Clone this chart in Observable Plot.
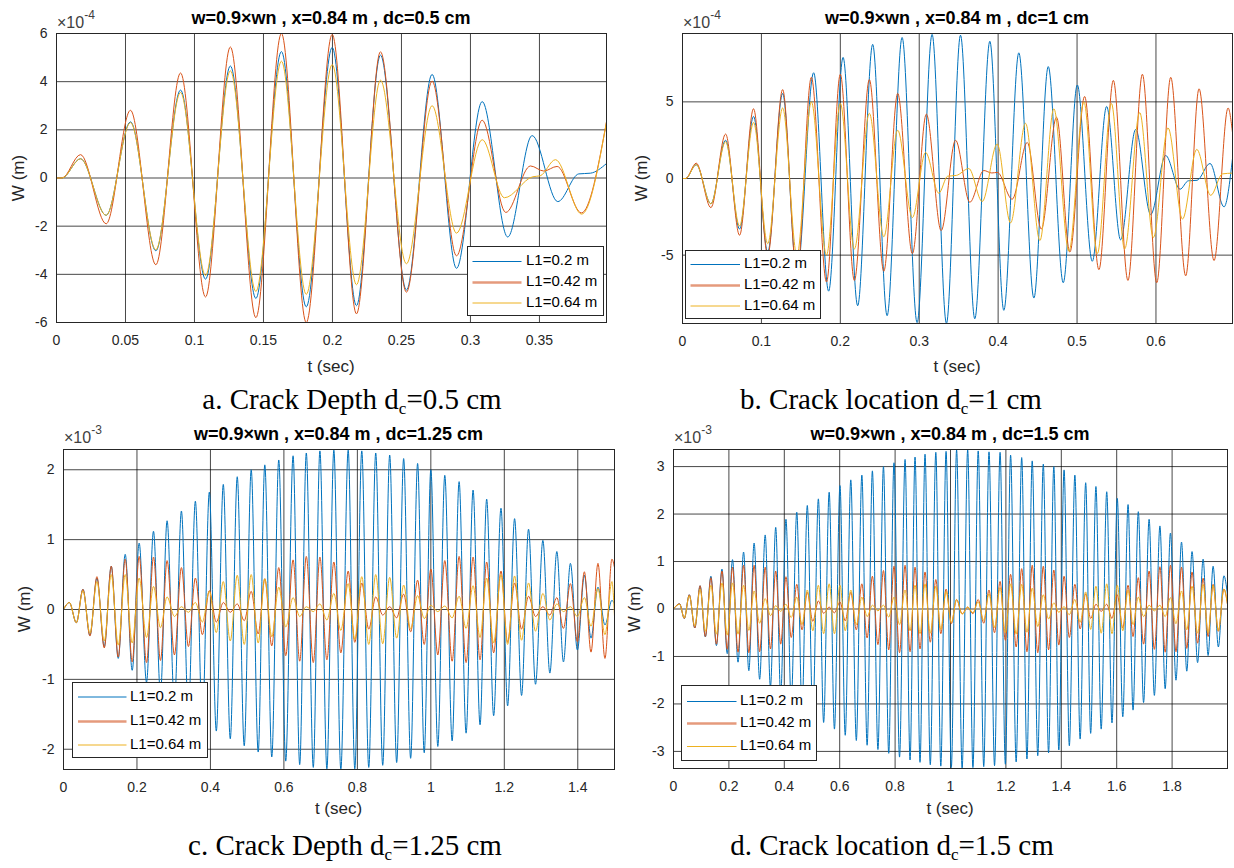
<!DOCTYPE html>
<html>
<head>
<meta charset="utf-8">
<script src="https://cdn.jsdelivr.net/npm/d3@7"></script>
<script src="https://cdn.jsdelivr.net/npm/@observablehq/plot@0.6"></script>
<style>
  html, body { margin: 0; padding: 0; background: #fff; }
  #fig { position: relative; width: 1234px; height: 868px; overflow: hidden; background: #fff;
         font-family: "Liberation Sans", Arial, sans-serif; }
  #fig svg { position: absolute; }
</style>
</head>
<body>
<div id="fig"></div>
<script>
// ---------------------------------------------------------------------------
// Beam deflection W(t) at x = 0.84 m, forcing w = 0.9 wn, for three crack
// positions L1. Each series is stored as its turning points (time, value);
// values are in the unit shown by the axis multiplier of each panel.
// ---------------------------------------------------------------------------
const seriesLabels = ["L1=0.2 m", "L1=0.42 m", "L1=0.64 m"];

// (a) dc = 0.5 cm, values x 1e-4 m
const tA_blue = [0, 0.004, 0.0174, 0.036, 0.0536, 0.072, 0.0899, 0.108, 0.126, 0.1445, 0.163, 0.181, 0.1998, 0.2174, 0.2348, 0.2536, 0.2722, 0.2899, 0.3085, 0.327, 0.3447, 0.3633, 0.3785, 0.387, 0.3986];
const wA_blue = [0, 0, 0.8, -1.55, 2.33, -3.02, 3.65, -4.2, 4.65, -5.0, 5.25, -5.35, 5.42, -5.3, 5.1, -4.65, 4.3, -3.75, 3.17, -2.45, 1.76, -0.98, 0.17, 0.2, 0.6];
const tA_red = [0, 0.004, 0.0174, 0.036, 0.0536, 0.072, 0.0899, 0.108, 0.126, 0.1445, 0.163, 0.181, 0.1998, 0.2174, 0.2348, 0.2536, 0.2722, 0.2899, 0.3085, 0.3256, 0.3435, 0.3531, 0.3628, 0.3804, 0.3986];
const wA_red = [0, 0, 0.97, -1.9, 2.81, -3.6, 4.36, -4.94, 5.44, -5.8, 6.0, -6.0, 5.96, -5.64, 5.24, -4.74, 4.02, -3.23, 2.4, -1.43, 0.5, 0.29, 0.48, -1.45, 2.33];
const tA_yellow = [0, 0.004, 0.0174, 0.036, 0.0536, 0.072, 0.0899, 0.108, 0.126, 0.1445, 0.163, 0.181, 0.1998, 0.2174, 0.2348, 0.2536, 0.2722, 0.2899, 0.3085, 0.3246, 0.345, 0.3505, 0.3616, 0.3806, 0.3986];
const wA_yellow = [0, 0, 0.8, -1.55, 2.3, -2.98, 3.55, -4.05, 4.45, -4.71, 4.85, -4.83, 4.71, -4.43, 4.06, -3.56, 3.0, -2.29, 1.59, -0.82, 0.05, 0.09, 0.76, -1.5, 2.33];
const ticksA_x = [0, 0.05, 0.1, 0.15, 0.2, 0.25, 0.3, 0.35];
const ticksA_y = [-6, -4, -2, 0, 2, 4, 6];

// (b) dc = 1 cm, values x 1e-4 m
const tB_blue = [0, 0.004, 0.0174, 0.036, 0.0546, 0.0723, 0.09, 0.108, 0.1269, 0.145, 0.1662, 0.1852, 0.2035, 0.222, 0.241, 0.2593, 0.2783, 0.2973, 0.3163, 0.3345, 0.3523, 0.3704, 0.3895, 0.4072, 0.4262, 0.4453, 0.4635, 0.4825, 0.5003, 0.5193, 0.5375, 0.5552, 0.5743, 0.5933, 0.6123, 0.6305, 0.641, 0.652, 0.6685, 0.6863, 0.697];
const wB_blue = [0, 0, 0.9, -1.65, 2.5, -3.3, 4.05, -4.8, 5.55, -6.2, 6.9, -7.35, 7.9, -8.3, 8.75, -8.95, 9.2, -9.4, 9.4, -9.45, 9.35, -9.15, 8.95, -8.6, 8.2, -7.8, 7.3, -6.8, 6.1, -5.4, 4.7, -4.0, 3.2, -2.35, 1.5, -0.7, -0.15, -0.12, 0.98, -1.85, 1.3];
const tB_red = [0, 0.004, 0.0174, 0.036, 0.0546, 0.0723, 0.09, 0.108, 0.1269, 0.145, 0.1633, 0.1825, 0.2, 0.2178, 0.2368, 0.2551, 0.2727, 0.2913, 0.309, 0.3278, 0.346, 0.3641, 0.3819, 0.392, 0.399, 0.4178, 0.4369, 0.4547, 0.474, 0.4909, 0.5096, 0.5277, 0.546, 0.5645, 0.5828, 0.601, 0.6187, 0.6377, 0.6546, 0.6736, 0.6914, 0.697];
const wB_red = [0, 0, 1.0, -1.9, 2.9, -3.7, 4.55, -5.0, 5.8, -6.3, 6.6, -6.75, 6.8, -6.65, 6.45, -6.05, 5.55, -4.9, 4.2, -3.4, 2.5, -1.55, 0.52, 0.36, 0.4, -1.35, 2.35, -3.3, 4.0, -4.8, 5.35, -5.95, 6.4, -6.65, 6.8, -6.8, 6.6, -6.35, 5.85, -5.35, 4.6, 3.0];
const tB_yellow = [0, 0.004, 0.0174, 0.036, 0.0546, 0.0723, 0.09, 0.108, 0.1269, 0.145, 0.1633, 0.1825, 0.2, 0.2178, 0.2368, 0.2551, 0.2727, 0.2913, 0.308, 0.3248, 0.336, 0.347, 0.3628, 0.3798, 0.3988, 0.4157, 0.4347, 0.4529, 0.4706, 0.4897, 0.5087, 0.5257, 0.5435, 0.5603, 0.5794, 0.5967, 0.6153, 0.6336, 0.6517, 0.6694, 0.6842, 0.697];
const wB_yellow = [0, 0, 0.9, -1.65, 2.4, -3.1, 3.65, -4.25, 4.6, -5.0, 5.0, -5.0, 4.9, -4.6, 4.25, -3.8, 3.15, -2.55, 1.7, -0.96, 0.15, 0.2, 0.65, -1.5, 2.25, -2.9, 3.6, -4.05, 4.55, -4.75, 5.0, -4.9, 4.9, -4.6, 4.3, -3.85, 3.3, -2.65, 1.9, -1.1, 0.3, 0.35];
const ticksB_x = [0, 0.1, 0.2, 0.3, 0.4, 0.5, 0.6];
const ticksB_y = [-5, 0, 5];

// (c) dc = 1.25 cm, values x 1e-3 m; the three series share the turning-point times
const tC = [0, 0.016, 0.035, 0.053, 0.072, 0.091, 0.111, 0.130, 0.149, 0.168,
  0.187, 0.206, 0.226, 0.245, 0.264, 0.282, 0.302, 0.321, 0.340, 0.359,
  0.378, 0.397, 0.416, 0.435, 0.454, 0.473, 0.492, 0.511, 0.530, 0.548,
  0.567, 0.586, 0.605, 0.625, 0.643, 0.661, 0.680, 0.698, 0.717, 0.736,
  0.755, 0.775, 0.793, 0.812, 0.831, 0.850, 0.869, 0.888, 0.907, 0.926,
  0.945, 0.964, 0.982, 1.000, 1.019, 1.038, 1.058, 1.077, 1.096, 1.115,
  1.134, 1.152, 1.171, 1.191, 1.209, 1.228, 1.247, 1.266, 1.285, 1.305,
  1.324, 1.343, 1.361, 1.380, 1.399, 1.418, 1.436, 1.455, 1.474, 1.493, 1.5];
const wC_blue = [0, 0.1, -0.19, 0.29, -0.37, 0.45, -0.53, 0.62, -0.7, 0.79, -0.87,
  0.95, -1.04, 1.12, -1.2, 1.27, -1.35, 1.41, -1.49, 1.55, -1.62,
  1.68, -1.74, 1.79, -1.85, 1.9, -1.95, 2.0, -2.04, 2.07, -2.11,
  2.14, -2.17, 2.2, -2.22, 2.24, -2.26, 2.27, -2.28, 2.28, -2.29,
  2.28, -2.28, 2.27, -2.26, 2.24, -2.23, 2.21, -2.19, 2.16, -2.13,
  2.09, -2.05, 2.0, -1.96, 1.92, -1.88, 1.83, -1.77, 1.71, -1.65,
  1.58, -1.52, 1.45, -1.38, 1.3, -1.23, 1.15, -1.07, 0.99, -0.91,
  0.83, -0.75, 0.66, -0.58, 0.49, -0.41, 0.32, -0.22, 0.13, 0.08];
const wC_red = [0, 0.1, -0.19, 0.29, -0.38, 0.47, -0.55, 0.62, -0.68, 0.72, -0.75,
  0.76, -0.76, 0.75, -0.73, 0.7, -0.65, 0.6, -0.53, 0.45, -0.36,
  0.27, -0.18, 0.1, -0.04, 0.08, -0.16, 0.26, -0.35, 0.44, -0.52,
  0.6, -0.66, 0.71, -0.74, 0.76, -0.76, 0.75, -0.72, 0.68, -0.62,
  0.55, -0.47, 0.38, -0.28, 0.18, -0.08, 0.04, -0.12, 0.22, -0.32,
  0.42, -0.5, 0.58, -0.65, 0.7, -0.74, 0.76, -0.76, 0.75, -0.72,
  0.68, -0.62, 0.55, -0.47, 0.38, -0.28, 0.19, -0.1, 0.04, -0.08,
  0.17, -0.27, 0.37, -0.46, 0.54, -0.61, 0.66, -0.7, 0.72, 0.6];
const wC_yellow = [0, 0.1, -0.19, 0.27, -0.34, 0.4, -0.45, 0.5, -0.51, 0.5, -0.48,
  0.45, -0.4, 0.33, -0.26, 0.18, -0.1, 0.04, -0.04, 0.1, -0.18,
  0.26, -0.33, 0.4, -0.45, 0.49, -0.5, 0.5, -0.48, 0.44, -0.39,
  0.32, -0.25, 0.17, -0.1, 0.04, -0.03, 0.08, -0.15, 0.23, -0.3,
  0.37, -0.43, 0.47, -0.5, 0.5, -0.49, 0.46, -0.41, 0.35, -0.28,
  0.2, -0.13, 0.06, -0.03, 0.05, -0.12, 0.19, -0.27, 0.34, -0.4,
  0.45, -0.48, 0.5, -0.5, 0.48, -0.44, 0.38, -0.31, 0.23, -0.15,
  0.08, -0.03, 0.04, -0.1, 0.17, -0.24, 0.3, -0.36, 0.4, -0.1];
const ticksC_x = [0, 0.2, 0.4, 0.6, 0.8, 1, 1.2, 1.4];
const ticksC_y = [-2, -1, 0, 1, 2];

// (d) dc = 1.5 cm, values x 1e-3 m; shared turning-point times
const tD = [0, 0.022, 0.039, 0.057, 0.077, 0.096, 0.115, 0.135, 0.155, 0.175,
  0.194, 0.213, 0.233, 0.253, 0.272, 0.291, 0.311, 0.331, 0.350, 0.369,
  0.387, 0.406, 0.425, 0.445, 0.464, 0.483, 0.503, 0.523, 0.542, 0.562,
  0.581, 0.601, 0.620, 0.640, 0.660, 0.680, 0.699, 0.718, 0.738, 0.758,
  0.777, 0.796, 0.816, 0.836, 0.854, 0.872, 0.890, 0.908, 0.927, 0.947,
  0.965, 0.984, 1.003, 1.022, 1.042, 1.062, 1.081, 1.100, 1.120, 1.139,
  1.159, 1.179, 1.198, 1.217, 1.237, 1.257, 1.276, 1.295, 1.315, 1.335,
  1.354, 1.373, 1.391, 1.410, 1.429, 1.449, 1.468, 1.488, 1.506, 1.525,
  1.544, 1.564, 1.583, 1.602, 1.622, 1.641, 1.659, 1.678, 1.697, 1.717,
  1.736, 1.756, 1.775, 1.794, 1.814, 1.834, 1.853, 1.872, 1.892, 1.912,
  1.930, 1.948, 1.967, 1.987, 2.0];
const wD_blue = [0, 0.11, -0.2, 0.3, -0.4, 0.49, -0.59, 0.69, -0.77, 0.84, -0.94,
  1.04, -1.12, 1.2, -1.3, 1.39, -1.48, 1.56, -1.64, 1.72, -1.81,
  1.89, -1.97, 2.04, -2.11, 2.18, -2.25, 2.32, -2.39, 2.46, -2.53,
  2.6, -2.66, 2.72, -2.77, 2.82, -2.87, 2.91, -2.96, 3.0, -3.04,
  3.08, -3.12, 3.15, -3.18, 3.2, -3.23, 3.26, -3.28, 3.3, -3.31,
  3.32, -3.34, 3.35, -3.36, 3.35, -3.34, 3.33, -3.32, 3.31, -3.3,
  3.3, -3.27, 3.24, -3.22, 3.19, -3.16, 3.12, -3.09, 3.05, -3.03,
  3.0, -2.97, 2.93, -2.88, 2.82, -2.74, 2.66, -2.62, 2.58, -2.53,
  2.47, -2.4, 2.33, -2.27, 2.2, -2.13, 2.05, -1.97, 1.89, -1.82,
  1.75, -1.68, 1.6, -1.5, 1.41, -1.31, 1.21, -1.13, 1.05, -0.98,
  0.9, -0.8, 0.7, 0.3];
const wD_red = [0, 0.11, -0.2, 0.3, -0.4, 0.49, -0.58, 0.66, -0.74, 0.8, -0.85,
  0.88, -0.91, 0.92, -0.92, 0.92, -0.9, 0.88, -0.84, 0.8, -0.74,
  0.68, -0.6, 0.52, -0.44, 0.35, -0.26, 0.17, -0.09, 0.04, -0.08,
  0.15, -0.25, 0.35, -0.44, 0.53, -0.61, 0.69, -0.75, 0.81, -0.86,
  0.9, -0.92, 0.92, -0.9, 0.88, -0.84, 0.78, -0.7, 0.62, -0.52,
  0.42, -0.31, 0.2, -0.1, 0.04, -0.1, 0.2, -0.3, 0.4, -0.5,
  0.58, -0.66, 0.73, -0.8, 0.85, -0.9, 0.92, -0.92, 0.9, -0.86,
  0.82, -0.76, 0.69, -0.6, 0.52, -0.42, 0.32, -0.2, 0.1, -0.05,
  0.1, -0.2, 0.3, -0.4, 0.5, -0.58, 0.66, -0.74, 0.8, -0.85,
  0.89, -0.91, 0.92, -0.9, 0.88, -0.83, 0.78, -0.72, 0.65, -0.58,
  0.52, -0.47, 0.42, 0.1];
const wD_yellow = [0, 0.1, -0.19, 0.28, -0.36, 0.42, -0.47, 0.5, -0.53, 0.55, -0.55,
  0.55, -0.53, 0.5, -0.45, 0.38, -0.3, 0.22, -0.14, 0.07, -0.05,
  0.1, -0.18, 0.25, -0.33, 0.4, -0.46, 0.5, -0.52, 0.53, -0.52,
  0.5, -0.46, 0.4, -0.33, 0.25, -0.16, 0.08, -0.04, 0.08, -0.17,
  0.25, -0.33, 0.4, -0.46, 0.5, -0.52, 0.53, -0.51, 0.48, -0.43,
  0.37, -0.29, 0.2, -0.11, 0.04, -0.08, 0.15, -0.24, 0.32, -0.39,
  0.45, -0.5, 0.53, -0.53, 0.52, -0.49, 0.44, -0.37, 0.3, -0.21,
  0.13, -0.07, 0.05, -0.12, 0.2, -0.28, 0.36, -0.43, 0.48, -0.51,
  0.53, -0.52, 0.5, -0.46, 0.4, -0.33, 0.25, -0.16, 0.08, -0.04,
  0.08, -0.16, 0.24, -0.31, 0.38, -0.44, 0.48, -0.51, 0.52, -0.51,
  0.5, -0.46, 0.42, 0.1];
const ticksD_x = [0, 0.2, 0.4, 0.6, 0.8, 1, 1.2, 1.4, 1.6, 1.8];
const ticksD_y = [-3, -2, -1, 0, 1, 2, 3];

// ---------------------------------------------------------------------------
const palette = ["#0072BD", "#D95319", "#EDB120"];
const fig = document.getElementById("fig");
const rows = (ts, ws) => ts.map((t, i) => ({t, w: ws[i]}));
const fmt = d => String(d);

function drawPanel(p) {
  const mr = 6, mb = 34;
  const plot = Plot.plot({
    width: p.ml + p.iw + mr,
    height: p.mt + p.ih + mb,
    marginLeft: p.ml, marginRight: mr, marginTop: p.mt, marginBottom: mb,
    style: {fontFamily: "'Liberation Sans', Arial, sans-serif", fontSize: "14px",
            color: "#262626", background: "transparent", overflow: "visible"},
    x: {domain: [0, p.xMax]},
    y: {domain: [-p.yMax, p.yMax]},
    marks: [
      Plot.gridX({ticks: p.xTicks, stroke: "#000", strokeOpacity: 0.72}),
      Plot.gridY({ticks: p.yTicks, stroke: "#000", strokeOpacity: 0.72}),
      ...p.series.map((s, i) => Plot.line(s, {x: "t", y: "w", stroke: palette[i],
        strokeWidth: 1, curve: "monotone-x", clip: true})),
      Plot.frame({stroke: "#262626"}),
      Plot.axisX({ticks: p.xTicks, tickSize: 0, tickPadding: 13, tickFormat: fmt, label: null}),
      Plot.axisY({ticks: p.yTicks, tickSize: 0, tickPadding: 9, tickFormat: fmt, label: null})
    ]
  });
  plot.style.left = p.left + "px";
  plot.style.top = p.top + "px";
  fig.appendChild(plot);
}

drawPanel({left: 0, top: 0, ml: 56, mt: 33, iw: 550, ih: 289, xMax: 0.3986, yMax: 6,
  xTicks: ticksA_x, yTicks: ticksA_y,
  series: [rows(tA_blue, wA_blue), rows(tA_red, wA_red), rows(tA_yellow, wA_yellow)]});
drawPanel({left: 626, top: 0, ml: 56, mt: 33, iw: 550, ih: 290, xMax: 0.697, yMax: 9.46,
  xTicks: ticksB_x, yTicks: ticksB_y,
  series: [rows(tB_blue, wB_blue), rows(tB_red, wB_red), rows(tB_yellow, wB_yellow)]});
drawPanel({left: 0, top: 400, ml: 63, mt: 49, iw: 551, ih: 320, xMax: 1.5, yMax: 2.29,
  xTicks: ticksC_x, yTicks: ticksC_y,
  series: [rows(tC, wC_blue), rows(tC, wC_red), rows(tC, wC_yellow)]});
drawPanel({left: 617, top: 400, ml: 56, mt: 49, iw: 554, ih: 319, xMax: 2.0, yMax: 3.36,
  xTicks: ticksD_x, yTicks: ticksD_y,
  series: [rows(tD, wD_blue), rows(tD, wD_red), rows(tD, wD_yellow)]});

// ---------------------------------------------------------------------------
// Titles, multipliers, axis names, legends and captions
const ov = d3.create("svg").attr("width", 1234).attr("height", 868)
  .style("left", "0px").style("top", "0px").style("pointer-events", "none");
const sans = "'Liberation Sans', Arial, sans-serif";
const serif = "'Liberation Serif', 'Times New Roman', serif";

const panels = [
  {title: "w=0.9×wn , x=0.84 m , dc=0.5 cm", tx: 331, ty: 24, exp: "-4", ex: 57, ey: 28,
   yl: [19.5, 178], xl: [331, 372], cap: ["a. Crack Depth d", "=0.5 cm"], cx: 352, cy: 409,
   leg: {x: 467.5, y: 246.5, w: 136, h: 69, l0: 472.5, l1: 521.5, tx: 526, rows: [261.5, 282.5, 303]}},
  {title: "w=0.9×wn , x=0.84 m , dc=1 cm", tx: 957, ty: 24, exp: "-4", ex: 683, ey: 28,
   yl: [643, 178], xl: [957, 372], cap: ["b. Crack location d", "=1 cm"], cx: 891, cy: 409,
   leg: {x: 685.5, y: 250.5, w: 135, h: 68, l0: 690.5, l1: 740, tx: 744, rows: [264.5, 285.5, 306]}},
  {title: "w=0.9×wn , x=0.84 m , dc=1.25 cm", tx: 338.5, ty: 440, exp: "-3", ex: 64, ey: 443,
   yl: [26, 609], xl: [338.5, 814], cap: ["c. Crack Depth d", "=1.25 cm"], cx: 345, cy: 855,
   leg: {x: 72.5, y: 682.5, w: 135, h: 75, l0: 78, l1: 126.5, tx: 130, rows: [697, 721.5, 745]}},
  {title: "w=0.9×wn , x=0.84 m , dc=1.5 cm", tx: 950, ty: 440, exp: "-3", ex: 674, ey: 443,
   yl: [635.5, 609], xl: [950, 814], cap: ["d. Crack location d", "=1.5 cm"], cx: 892, cy: 855,
   leg: {x: 681.5, y: 685.5, w: 135, h: 75, l0: 687, l1: 736.5, tx: 740, rows: [701.5, 723.5, 746.5]}}
];

for (const p of panels) {
  ov.append("text").attr("x", p.tx).attr("y", p.ty).attr("text-anchor", "middle")
    .attr("font-family", sans).attr("font-weight", "bold").attr("font-size", 18)
    .attr("fill", "#000").text(p.title);

  const e = ov.append("text").attr("x", p.ex).attr("y", p.ey)
    .attr("font-family", sans).attr("font-size", 16).attr("fill", "#404040");
  e.append("tspan").text("×10");
  e.append("tspan").attr("dy", -9).attr("font-size", 12).text(p.exp);

  ov.append("text").attr("transform", `translate(${p.yl[0]},${p.yl[1]}) rotate(-90)`)
    .attr("text-anchor", "middle").attr("dominant-baseline", "middle")
    .attr("font-family", sans).attr("font-size", 17).attr("fill", "#262626").text("W (m)");

  ov.append("text").attr("x", p.xl[0]).attr("y", p.xl[1]).attr("text-anchor", "middle")
    .attr("font-family", sans).attr("font-size", 17).attr("fill", "#262626").text("t (sec)");

  const c = ov.append("text").attr("x", p.cx).attr("y", p.cy).attr("text-anchor", "middle")
    .attr("font-family", serif).attr("font-size", 29).attr("fill", "#000");
  c.append("tspan").text(p.cap[0]);
  c.append("tspan").attr("dy", 5).attr("font-size", 17).text("c");
  c.append("tspan").attr("dy", -5).text(p.cap[1]);

  const L = p.leg;
  ov.append("rect").attr("x", L.x).attr("y", L.y).attr("width", L.w).attr("height", L.h)
    .attr("fill", "#fff").attr("stroke", "#262626").attr("stroke-width", 1);
  seriesLabels.forEach((name, i) => {
    ov.append("line").attr("x1", L.l0).attr("x2", L.l1).attr("y1", L.rows[i]).attr("y2", L.rows[i])
      .attr("stroke", i === 1 ? "#E59A7C" : palette[i]).attr("stroke-width", i === 1 ? 2.5 : 1);
    ov.append("text").attr("x", L.tx).attr("y", L.rows[i]).attr("dominant-baseline", "middle")
      .attr("font-family", sans).attr("font-size", 15).attr("fill", "#000").text(name);
  });
}
fig.appendChild(ov.node());
</script>
</body>
</html>
